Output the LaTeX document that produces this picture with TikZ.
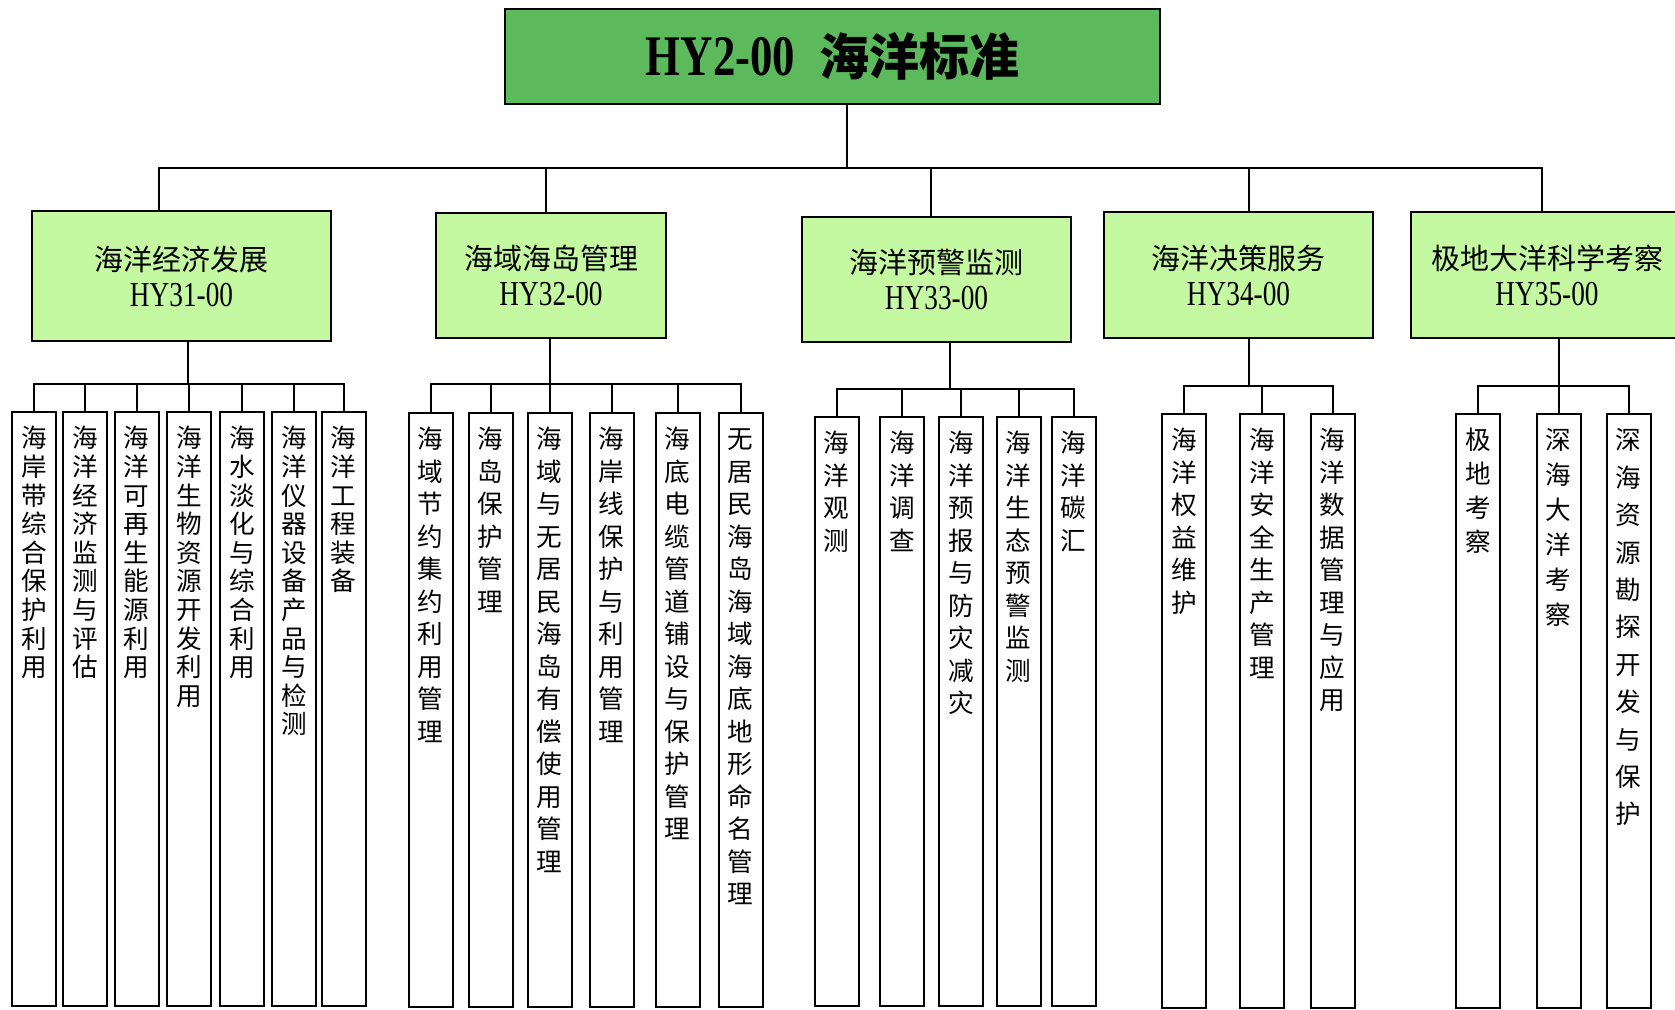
\documentclass[tikz,border=0pt]{standalone}
\usepackage{fontspec}
\setmainfont{Noto Sans CJK SC}
\newfontfamily\codefont[FakeStretch=0.78]{Liberation Serif}
\XeTeXlinebreaklocale "zh"
\XeTeXlinebreakskip=0pt plus 1pt
\definecolor{colour_root}{HTML}{5CBA5C}
\definecolor{colour_branch}{HTML}{C4F9A2}
\newcommand{\stdcode}[1]{{\codefont\fontsize{17.5}{18}\selectfont #1}}

\begin{document}
\begin{tikzpicture}
   [
      x=0.5pt, y=-0.5pt,
      root/.style={rectangle, draw, line width=1pt, fill=colour_root, minimum width=327.5pt, minimum height=47.5pt, font=\fontsize{25}{30}\selectfont\bfseries},
      branch/.style={rectangle, draw, line width=1pt, fill=colour_branch, align=center, inner sep=0pt, font=\fontsize{14.5}{18}\selectfont},
      leaf/.style={rectangle, draw, line width=1pt, anchor=north, minimum width=22pt, text width=13pt, align=center, inner xsep=4.5pt, inner ysep=5pt, text height=12.9pt, text depth=274pt, font=\fontsize{12.8}{#1}\selectfont},
      leaf/.default=16.25pt,
      link/.style={line width=1pt},
   ]

   \useasboundingbox (0,0) rectangle (1675,1009);
   \fill[white] (0,0) rectangle (1675,1009);

   % =======================================================
   % Root
   % =======================================================

   \node[root] (std) at (832.5,56.5) {{\codefont\fontsize{28.7}{30}\selectfont HY2-00}\hspace{12pt}海洋标准};

   % =======================================================
   % Second level
   % =======================================================

   \node[branch, minimum width=149.5pt, minimum height=65pt] (econ) at (181.5,276) {海洋经济发展\\\stdcode{HY31-00}};
   \node[branch, minimum width=115pt, minimum height=62.5pt] (sea) at (551,275.5) {海域海岛管理\\\stdcode{HY32-00}};
   \node[branch, minimum width=134.5pt, minimum height=62.5pt] (warn) at (936.5,279.5) {海洋预警监测\\\stdcode{HY33-00}};
   \node[branch, minimum width=134.5pt, minimum height=63pt] (policy) at (1238.5,275) {海洋决策服务\\\stdcode{HY34-00}};
   \node[branch, minimum width=136pt, minimum height=63pt] (polar) at (1547,275) {极地大洋科学考察\\\stdcode{HY35-00}};

   % Bus junctions
   \coordinate (hub) at (847,168);
   \coordinate (j1) at (188,384);
   \coordinate (j2) at (550,384);
   \coordinate (j3) at (950,389);
   \coordinate (j4) at (1249,386);
   \coordinate (j5) at (1559,386);

   % =======================================================
   % Leaves: HY31
   % =======================================================

   \node[leaf=14.3pt] (c11) at (34,411) {海岸带综合保护利用};
   \node[leaf=14.3pt] (c12) at (85,411) {海洋经济监测与评估};
   \node[leaf=14.3pt] (c13) at (136.5,411) {海洋可再生能源利用};
   \node[leaf=14.3pt] (c14) at (189,411) {海洋生物资源开发利用};
   \node[leaf=14.3pt] (c15) at (242,411) {海水淡化与综合利用};
   \node[leaf=14.3pt] (c16) at (294,411) {海洋仪器设备产品与检测};
   \node[leaf=14.3pt] (c17) at (343.5,411) {海洋工程装备};

   % =======================================================
   % Leaves: HY32
   % =======================================================

   \node[leaf] (c21) at (430.5,412) {海域节约集约利用管理};
   \node[leaf] (c22) at (490.5,412) {海岛保护管理};
   \node[leaf] (c23) at (549.5,412) {海域与无居民海岛有偿使用管理};
   \node[leaf] (c24) at (611.5,412) {海岸线保护与利用管理};
   \node[leaf] (c25) at (677.5,412) {海底电缆管道铺设与保护管理};
   \node[leaf] (c26) at (740.5,412) {无居民海岛海域海底地形命名管理};

   % =======================================================
   % Leaves: HY33
   % =======================================================

   \node[leaf, text depth=271.5pt] (c31) at (836.5,416) {海洋观测};
   \node[leaf, text depth=271.5pt] (c32) at (902,416) {海洋调查};
   \node[leaf, text depth=271.5pt] (c33) at (961,416) {海洋预报与防灾减灾};
   \node[leaf, text depth=271.5pt] (c34) at (1018.5,416) {海洋生态预警监测};
   \node[leaf, text depth=271.5pt] (c35) at (1073.5,416) {海洋碳汇};

   % =======================================================
   % Leaves: HY34 and HY35
   % =======================================================

   \node[leaf] (c41) at (1184,413) {海洋权益维护};
   \node[leaf] (c42) at (1262,413) {海洋安全生产管理};
   \node[leaf] (c43) at (1332.5,413) {海洋数据管理与应用};

   \node[leaf=17pt] (c51) at (1478,413) {极地考察};
   \node[leaf=17.5pt] (c52) at (1558.5,413) {深海大洋考察};
   \node[leaf=18.7pt] (c53) at (1628.5,413) {深海资源勘探开发与保护};

   % =======================================================
   % Links
   % =======================================================

   \draw[link] (std.south -| hub) -- (hub);
   \draw[link] ([xshift=-11.25pt]econ.north) |- (hub);
   \draw[link] ([xshift=-2.5pt]sea.north) |- (hub);
   \draw[link] ([xshift=-2.75pt]warn.north) |- (hub);
   \draw[link] ([xshift=5.25pt]policy.north) |- (hub);
   \draw[link] ([xshift=-2.5pt]polar.north) |- (hub);

   \draw[link] (econ.south -| j1) -- (j1);
   \draw[link] (c11.north) |- (j1);
   \draw[link] (c12.north) |- (j1);
   \draw[link] (c13.north) |- (j1);
   \draw[link] (c14.north) |- (j1);
   \draw[link] (c15.north) |- (j1);
   \draw[link] (c16.north) |- (j1);
   \draw[link] (c17.north) |- (j1);

   \draw[link] (sea.south -| j2) -- (j2);
   \draw[link] (c21.north) |- (j2);
   \draw[link] (c22.north) |- (j2);
   \draw[link] (c23.north) |- (j2);
   \draw[link] (c24.north) |- (j2);
   \draw[link] (c25.north) |- (j2);
   \draw[link] (c26.north) |- (j2);

   \draw[link] (warn.south -| j3) -- (j3);
   \draw[link] (c31.north) |- (j3);
   \draw[link] (c32.north) |- (j3);
   \draw[link] (c33.north) |- (j3);
   \draw[link] (c34.north) |- (j3);
   \draw[link] (c35.north) |- (j3);

   \draw[link] (policy.south -| j4) -- (j4);
   \draw[link] (c41.north) |- (j4);
   \draw[link] (c42.north) |- (j4);
   \draw[link] (c43.north) |- (j4);

   \draw[link] (polar.south -| j5) -- (j5);
   \draw[link] (c51.north) |- (j5);
   \draw[link] (c52.north) |- (j5);
   \draw[link] (c53.north) |- (j5);

\end{tikzpicture}
\end{document}
